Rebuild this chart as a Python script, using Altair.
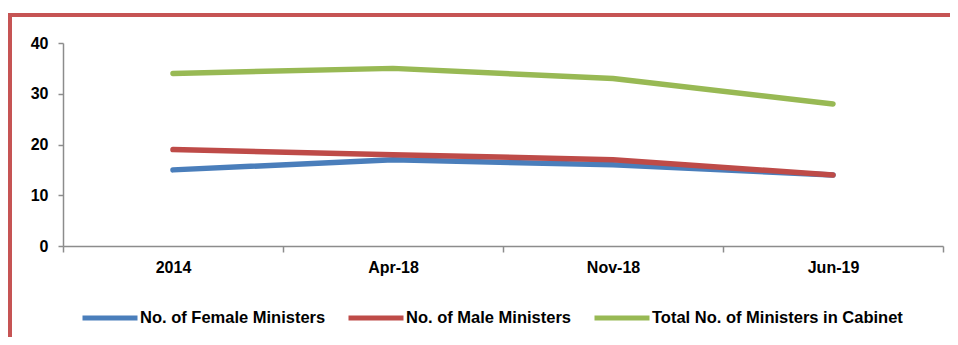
import altair as alt
import pandas as pd

periods = ["2014", "Apr-18", "Nov-18", "Jun-19"]
female = [15, 17, 16, 14]
male = [19, 18, 17, 14]
total = [34, 35, 33, 28]
series_names = ["No. of Female Ministers", "No. of Male Ministers",
                "Total No. of Ministers in Cabinet"]
series_colors = ["#4A7EBB", "#BE4B48", "#98B954"]
y_ticks = [0, 10, 20, 30, 40]

rows = []
for name, vals in zip(series_names, [female, male, total]):
    for p, v in zip(periods, vals):
        rows.append({"period": p, "value": v, "series": name})
df = pd.DataFrame(rows)

FONT = "Liberation Sans"
FRAME = "#C65454"

lines = alt.Chart(df).mark_line(strokeWidth=5.5, strokeCap="round", strokeJoin="round").encode(
    x=alt.X("period:N", sort=periods, bandPosition=0.5,
            scale=alt.Scale(type="band", paddingInner=0, paddingOuter=0),
            axis=alt.Axis(title=None, tickBand="extent", labelAngle=0,
                          labelFont=FONT, labelFontWeight="bold", labelFontSize=16,
                          labelColor="#000000", labelPadding=7, tickSize=6,
                          domainColor="#8C8C8C", tickColor="#8C8C8C",
                          domainWidth=1.5, tickWidth=1.5, grid=False)),
    y=alt.Y("value:Q", scale=alt.Scale(domain=[0, 40]),
            axis=alt.Axis(title=None, values=y_ticks, labelFont=FONT,
                          labelFontWeight="bold", labelFontSize=16,
                          labelColor="#000000", labelPadding=10, tickSize=5,
                          domainColor="#8C8C8C", tickColor="#8C8C8C",
                          domainWidth=1.5, tickWidth=1.5, grid=False)),
    color=alt.Color("series:N", sort=series_names,
                    scale=alt.Scale(domain=series_names, range=series_colors),
                    legend=alt.Legend(title=None, orient="none", direction="horizontal",
                                      legendX=17, legendY=245,
                                      symbolType="stroke", symbolSize=3025,
                                      symbolStrokeWidth=5, labelOffset=0,
                                      columnPadding=12, labelLimit=400,
                                      labelFont=FONT, labelFontWeight="bold",
                                      labelFontSize=16.5, labelColor="#000000")),
)

left_frame = alt.Chart(df).mark_rule(color=FRAME, strokeWidth=4).encode(
    x=alt.value(-53), y=alt.value(-28), y2=alt.value(310))
top_frame = alt.Chart(df).mark_rule(color=FRAME, strokeWidth=3).encode(
    x=alt.value(-55), x2=alt.value(900), y=alt.value(-28))

chart = alt.layer(left_frame, top_frame, lines).properties(
    width=880, height=203,
    padding={"left": 55, "top": 35, "right": 7, "bottom": 91},
    autosize=alt.AutoSizeParams(type="none"),
).configure_view(stroke=None)

chart.save("out.html", embed_options={"renderer": "svg", "actions": False})
